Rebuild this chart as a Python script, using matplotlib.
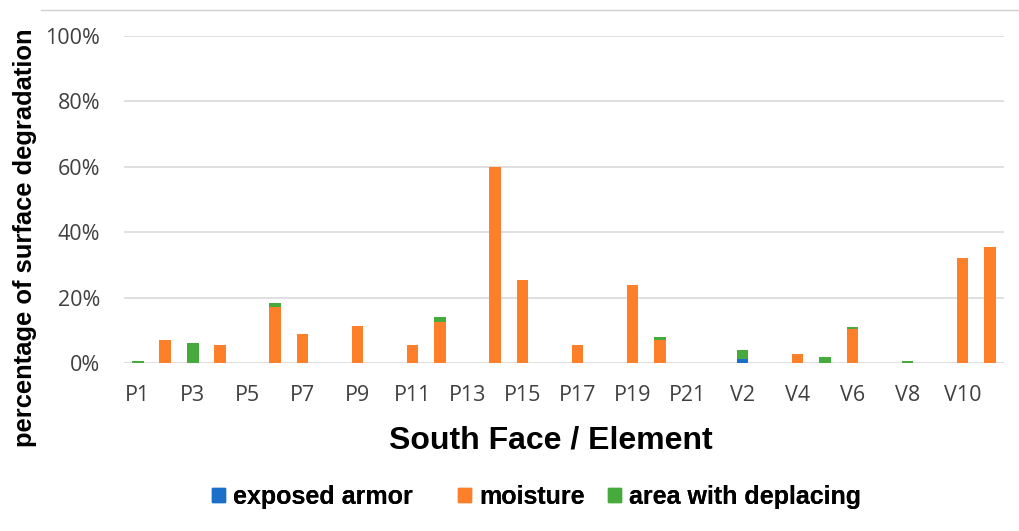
import numpy as np
import matplotlib
matplotlib.use("Agg")
import matplotlib.pyplot as plt
from matplotlib.patches import Patch
from matplotlib.ticker import PercentFormatter

# South face elements
elements = [f"P{i}" for i in range(1, 22)] + [f"V{i}" for i in range(1, 12)]

# percentage of surface degradation per element
exposed_armor = [0, 0, 0, 0, 0, 0, 0, 0, 0, 0, 0, 0, 0, 0, 0, 0,
                 0, 0, 0, 0, 0,
                 0, 1.1, 0, 0, 0, 0, 0, 0, 0, 0, 0]
moisture = [0, 7.1, 0, 5.5, 0, 17.2, 8.8, 0, 11.4, 0, 5.5, 12.4, 0, 60.0, 25.3, 0,
            5.5, 0, 23.7, 7.1, 0,
            0, 0, 0, 2.9, 0, 10.3, 0, 0, 0, 32.2, 35.5]
deplacing = [0.7, 0, 6.0, 0, 0, 1.1, 0, 0, 0, 0, 0, 1.7, 0, 0, 0, 0,
             0, 0, 0, 1.0, 0,
             0, 2.8, 0, 0, 1.7, 0.6, 0, 0.7, 0, 0, 0]
series_names = ["exposed armor", "moisture", "area with deplacing"]

c_blue = "#1b6fc8"
c_orange = "#fd7f2a"
c_green = "#46ab3c"
colors = [c_blue, c_orange, c_green]

fig = plt.figure(figsize=(10.19, 5.31), dpi=100)
ax = fig.add_axes([0.1217, 0.3164, 0.8633, 0.6158])

x = np.arange(len(elements))
a = np.array(exposed_armor)
m = np.array(moisture)
d = np.array(deplacing)
w = 0.42
ax.bar(x, a, w, color=c_blue, zorder=3)
ax.bar(x, m, w, bottom=a, color=c_orange, zorder=3)
ax.bar(x, d, w, bottom=a + m, color=c_green, zorder=3)

ax.set_xlim(-0.5, len(elements) - 0.5)
ax.set_ylim(0, 100)
ax.set_yticks(np.arange(0, 101, 20))
ax.yaxis.set_major_formatter(PercentFormatter(decimals=0))
ax.set_xticks(x[::2])
ax.set_xticklabels(elements[::2])
ax.grid(axis="y", color="#d9d9d9", lw=1.2, zorder=0)
for s in ["top", "right", "left", "bottom"]:
    ax.spines[s].set_visible(False)
ax.tick_params(length=0, labelsize=15.5, labelcolor="#404040")
ax.tick_params(axis="x", pad=16)
ax.tick_params(axis="y", pad=17)
for t in ax.get_xticklabels() + ax.get_yticklabels():
    t.set_fontfamily("Open Sans")

ax.set_xlabel("South Face / Element", fontsize=23, fontweight="bold",
              family="Liberation Sans")
ax.xaxis.set_label_coords((551 - 124) / 880, -0.19)
ax.set_ylabel("percentage of surface degradation", fontsize=18.4, fontweight="bold",
              family="Liberation Sans")
ax.yaxis.set_label_coords((37 - 124) / 880, 0.382)

# legend entries spaced like the original
leg_x = [212, 458, 608]
for name, col, lx in zip(series_names, colors, leg_x):
    lg = fig.legend(handles=[Patch(color=col)], labels=[name], loc="center left",
                    bbox_to_anchor=(lx / 1019, 1 - 497 / 531), frameon=False,
                    prop={"family": "Liberation Sans", "weight": "bold", "size": 18},
                    handlelength=0.52, handleheight=0.52, handletextpad=0.32,
                    borderpad=0, borderaxespad=0)
    fig.add_artist(lg)

# thin frame line at the top of the image
fig.add_artist(plt.Line2D([0.04, 1.0], [0.981, 0.981], color="#d0d0d0", lw=1,
                          transform=fig.transFigure))

fig.savefig("out.png", dpi=100)
